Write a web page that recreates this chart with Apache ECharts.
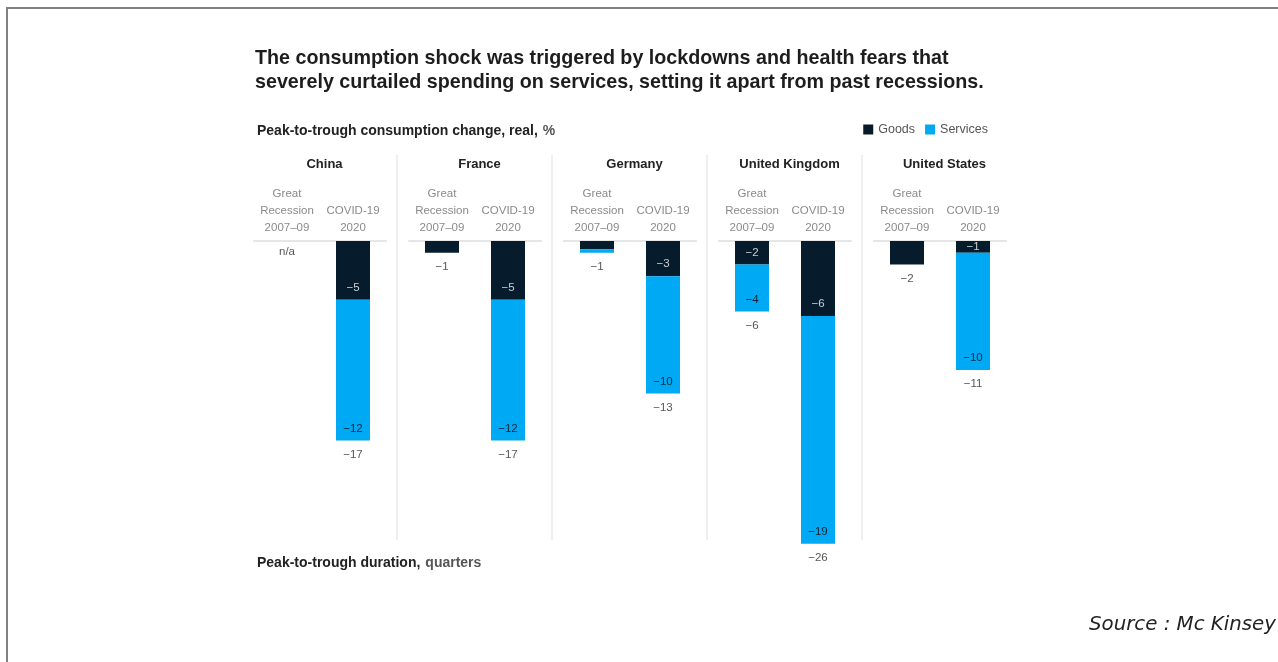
<!DOCTYPE html>
<html>
<head>
<meta charset="utf-8">
<script src="https://cdn.jsdelivr.net/npm/echarts@6/dist/echarts.min.js"></script>
<style>
  html, body { margin: 0; padding: 0; background: #fff; }
  #chart { width: 1278px; height: 662px; }
</style>
</head>
<body>
<div id="chart"></div>
<script>
// Peak-to-trough real consumption change (%), by country and episode
const countries = ['China', 'France', 'Germany', 'United Kingdom', 'United States'];
const periods = ['Great\nRecession\n2007–09', 'COVID-19\n2020'];

// Great Recession 2007–09 (null = not available)
const goodsGreatRecession    = [null, -1, -0.7, -2, -2];
const servicesGreatRecession = [null,  0, -0.3, -4,  0];
// COVID-19 2020
const goodsCovid    = [-5, -5, -3, -6.4, -1];
const servicesCovid = [-12, -12, -10, -19.4, -10];

const GOODS = '#061c2c';
const SERVICES = '#00a9f4';
const FONT = '"Liberation Sans", Arial, sans-serif';

// panel layout
const panelLeft0 = 242, panelW = 155, gridInset = 12, gridW = 132;
const gridTop = 241, gridH = 352;

const fmt = v => {
  const r = Math.round(v);
  return (r < 0 ? '\u2212' : '') + Math.abs(r);
};

const grids = [], xAxes = [], yAxes = [], series = [], titles = [], graphics = [];

const segLabel = (v, show, color) => ({
  show: show,
  position: Math.abs(v) < 1.5 ? 'inside' : 'insideBottom',
  distance: 6, color: color, fontSize: 11.5, fontFamily: FONT,
  formatter: p => fmt(p.value)
});

countries.forEach((c, i) => {
  const pl = panelLeft0 + panelW * i;
  grids.push({ left: pl + gridInset, top: gridTop, width: gridW, height: gridH });
  xAxes.push({
    type: 'category', gridIndex: i, position: 'top', data: periods,
    axisLine: { show: true, lineStyle: { color: '#e6e6e6', width: 2 } },
    axisTick: { show: false },
    axisLabel: { color: '#8a8a8a', fontSize: 11.5, fontFamily: FONT, lineHeight: 17, margin: 5, interval: 0 }
  });
  yAxes.push({ type: 'value', gridIndex: i, min: -30, max: 0, show: false });

  const g = [goodsGreatRecession[i], goodsCovid[i]];
  const s = [servicesGreatRecession[i], servicesCovid[i]];
  const inner = [0, 1].map(k => g[k] !== null && Math.abs(g[k]) >= 1 && Math.abs(s[k]) >= 1);

  series.push({
    name: 'Goods', type: 'bar', stack: 'p' + i, xAxisIndex: i, yAxisIndex: i,
    barWidth: 34, itemStyle: { color: GOODS }, silent: true,
    data: g.map((v, k) => ({ value: v, label: segLabel(v || 0, inner[k], '#c9ced3') }))
  });
  series.push({
    name: 'Services', type: 'bar', stack: 'p' + i, xAxisIndex: i, yAxisIndex: i,
    barWidth: 34, itemStyle: { color: SERVICES }, silent: true,
    data: s.map((v, k) => ({ value: v, label: segLabel(v || 0, inner[k], '#0a2538') }))
  });
  // stack totals under each bar, or n/a where no data
  series.push({
    name: 'total', type: 'scatter', xAxisIndex: i, yAxisIndex: i, symbolSize: 0, silent: true,
    data: [0, 1].map(k => {
      const na = g[k] === null;
      const tot = na ? 0 : g[k] + s[k];
      return {
        value: [k, tot],
        label: { show: true, position: 'bottom', distance: na ? 5 : 8, color: '#2a2a2a',
                 fontSize: 11.5, fontFamily: FONT, formatter: () => na ? 'n/a' : fmt(tot) }
      };
    })
  });

  titles.push({
    text: c, left: pl + panelW / 2, top: 153, textAlign: 'center',
    textStyle: { fontSize: 13, fontWeight: 'bold', color: '#222', fontFamily: FONT }
  });
  if (i > 0) {
    graphics.push({
      type: 'line', silent: true,
      shape: { x1: pl, y1: 155, x2: pl, y2: 540 },
      style: { stroke: '#efefef', lineWidth: 2 }
    });
  }
});

titles.unshift(
  {
    text: 'The consumption shock was triggered by lockdowns and health fears that\nseverely curtailed spending on services, setting it apart from past recessions.',
    left: 250, top: 42,
    textStyle: { fontSize: 19.7, fontWeight: 'bold', color: '#1d1d1d', lineHeight: 24, fontFamily: FONT }
  },
  {
    text: '{b|Peak-to-trough consumption change, real,} {n|%}',
    left: 252, top: 117,
    textStyle: { rich: {
      b: { fontSize: 14, fontWeight: 'bold', color: '#222', fontFamily: FONT },
      n: { fontSize: 14, color: '#555', fontFamily: FONT }
    } }
  },
  {
    text: '{b|Peak-to-trough duration,} {n|quarters}',
    left: 252, top: 549,
    textStyle: { rich: {
      b: { fontSize: 14, fontWeight: 'bold', color: '#222', fontFamily: FONT },
      n: { fontSize: 14, color: '#555', fontFamily: FONT }
    } }
  },
  {
    text: 'Source : Mc Kinsey',
    right: -3, top: 610,
    textStyle: { fontSize: 19.8, fontStyle: 'italic', fontWeight: 'normal', color: '#222',
                 fontFamily: '"DejaVu Sans", sans-serif' }
  }
);

// outer frame
graphics.push({
  type: 'rect', silent: true, z: -1,
  shape: { x: 7, y: 8, width: 1300, height: 700 },
  style: { fill: 'none', stroke: '#808080', lineWidth: 2 }
});

const chart = echarts.init(document.getElementById('chart'), null, { renderer: 'canvas' });
chart.setOption({
  animation: false,
  backgroundColor: '#fff',
  title: titles,
  legend: {
    data: ['Goods', 'Services'], right: 285, top: 118,
    icon: 'rect', itemWidth: 10, itemHeight: 10, itemGap: 10,
    textStyle: { fontSize: 12.5, color: '#555', fontFamily: FONT },
    selectedMode: false
  },
  grid: grids,
  xAxis: xAxes,
  yAxis: yAxes,
  series: series,
  graphic: graphics
});
</script>
</body>
</html>
